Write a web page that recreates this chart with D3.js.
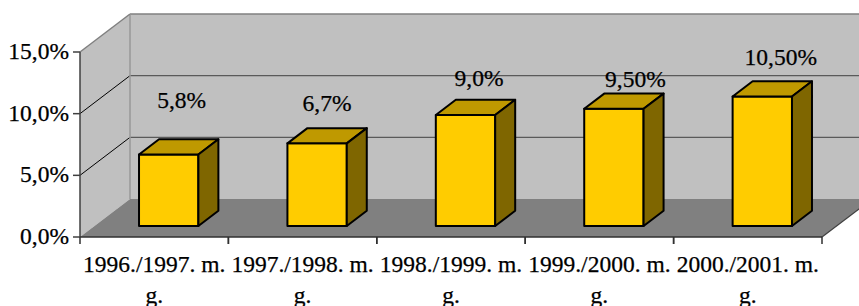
<!DOCTYPE html>
<html>
<head>
<meta charset="utf-8">
<script src="https://cdn.jsdelivr.net/npm/d3@7"></script>
<style>
  html, body { margin: 0; padding: 0; background: #fff; }
  svg { display: block; }
  text { font-family: "Liberation Serif", "Times New Roman", serif; fill: #000; stroke: #000; stroke-width: 0.25px; }
</style>
</head>
<body>
<svg id="chart" width="859" height="306"></svg>
<script>
// ---- data ----
const categories = ["1996./1997. m. g.", "1997./1998. m. g.", "1998./1999. m. g.", "1999./2000. m. g.", "2000./2001. m. g."];
const values = [5.8, 6.7, 9.0, 9.5, 10.5];
const valueLabels = ["5,8%", "6,7%", "9,0%", "9,50%", "10,50%"];
const yTicks = [0, 5, 10, 15];
const yTickLabels = ["0,0%", "5,0%", "10,0%", "15,0%"];

// ---- layout (not data) ----
const labelNudge = [[3, -39], [0, -25], [3.5, -21.5], [11.5, -14], [8.5, -24]];
const plot = { left: 80, right: 822, top: 52, bottom: 237 };
const DEPTH = { dx: 50, dy: -38 };
const barFront = 0.29, barDepth = 0.4, barWidthFrac = 0.4;
const fontSize = 23.5;

const svg = d3.select("#chart");

const y = d3.scaleLinear().domain([0, 15]).range([plot.bottom, plot.top]);
const x = d3.scaleBand().domain(categories).range([plot.left, plot.right]).paddingInner(0).paddingOuter(0);

const pt = (px, py, f) => [px + DEPTH.dx * f, py + DEPTH.dy * f];
const poly = pts => pts.map(p => p.join(",")).join(" ");

const yMax = y.domain()[1], yMin = y.domain()[0];

// walls
svg.append("polygon") // back wall
  .attr("points", poly([pt(plot.left, y(yMax), 1), pt(plot.right, y(yMax), 1), pt(plot.right, y(yMin), 1), pt(plot.left, y(yMin), 1)]))
  .attr("fill", "#c0c0c0");
svg.append("polygon") // side wall
  .attr("points", poly([[plot.left, y(yMax)], pt(plot.left, y(yMax), 1), pt(plot.left, y(yMin), 1), [plot.left, y(yMin)]]))
  .attr("fill", "#c0c0c0");
svg.append("polygon") // floor
  .attr("points", poly([[plot.left, y(0)], [plot.right, y(0)], pt(plot.right, y(0), 1), pt(plot.left, y(0), 1)]))
  .attr("fill", "#808080");

// gridlines
yTicks.filter(v => v > yMin && v < yMax).forEach(v => {
  const a = pt(plot.left, y(v), 1), b = pt(plot.right, y(v), 1);
  svg.append("line").attr("x1", a[0]).attr("y1", a[1]).attr("x2", b[0]).attr("y2", b[1])
    .attr("stroke", "#5a5a5a").attr("stroke-width", 1.4);
  svg.append("line").attr("x1", plot.left).attr("y1", y(v)).attr("x2", a[0]).attr("y2", a[1])
    .attr("stroke", "#000").attr("stroke-width", 1);
});

// wall edges
{
  const tl = pt(plot.left, y(yMax), 1), tr = pt(plot.right, y(yMax), 1), bl = pt(plot.left, y(yMin), 1);
  svg.append("line").attr("x1", tl[0]).attr("y1", tl[1]).attr("x2", tr[0]).attr("y2", tr[1]).attr("stroke", "#808080").attr("stroke-width", 1.5);
  svg.append("line").attr("x1", tl[0]).attr("y1", tl[1]).attr("x2", bl[0]).attr("y2", bl[1]).attr("stroke", "#999").attr("stroke-width", 1.5);
  svg.append("line").attr("x1", plot.left).attr("y1", y(yMax)).attr("x2", tl[0]).attr("y2", tl[1]).attr("stroke", "#808080").attr("stroke-width", 1.5);
  const fr = pt(plot.right, y(0), 1);
  svg.append("line").attr("x1", plot.right).attr("y1", y(0)).attr("x2", fr[0]).attr("y2", fr[1]).attr("stroke", "#404040").attr("stroke-width", 1.2);
}

// y axis line + ticks + labels
svg.append("line").attr("x1", plot.left).attr("y1", y(yMax)).attr("x2", plot.left).attr("y2", y(yMin))
  .attr("stroke", "#404040").attr("stroke-width", 1.5);
yTicks.forEach((v, i) => {
  svg.append("line").attr("x1", plot.left - 7).attr("y1", y(v)).attr("x2", plot.left).attr("y2", y(v))
    .attr("stroke", "#404040").attr("stroke-width", 1.5);
  svg.append("text").attr("x", plot.left - 11).attr("y", y(v) + 7).attr("text-anchor", "end")
    .attr("font-size", fontSize).text(yTickLabels[i]);
});

// x axis line + ticks
svg.append("line").attr("x1", plot.left).attr("y1", y(0)).attr("x2", plot.right).attr("y2", y(0))
  .attr("stroke", "#303030").attr("stroke-width", 1.5);
categories.forEach(c => {
  [x(c), x(c) + x.bandwidth()].forEach(px => {
    svg.append("line").attr("x1", px).attr("y1", y(0)).attr("x2", px).attr("y2", y(0) + 7)
      .attr("stroke", "#303030").attr("stroke-width", 1.5);
  });
});

// bars
const bw = x.bandwidth() * barWidthFrac;
categories.forEach((c, i) => {
  const v = values[i];
  const cx = x(c) + x.bandwidth() / 2;
  const [fl, fb] = pt(cx - bw / 2, y(0), barFront);
  const [fr] = pt(cx + bw / 2, y(0), barFront);
  const [, ft] = pt(cx, y(v), barFront);
  const ddx = DEPTH.dx * barDepth, ddy = DEPTH.dy * barDepth;
  const g = svg.append("g").attr("stroke", "#000").attr("stroke-width", 2).attr("stroke-linejoin", "round");
  g.append("polygon").attr("points", poly([[fl, ft], [fr, ft], [fr, fb], [fl, fb]])).attr("fill", "#ffcc00");
  g.append("polygon").attr("points", poly([[fl, ft], [fl + ddx, ft + ddy], [fr + ddx, ft + ddy], [fr, ft]])).attr("fill", "#bf9900");
  g.append("polygon").attr("points", poly([[fr, ft], [fr + ddx, ft + ddy], [fr + ddx, fb + ddy], [fr, fb]])).attr("fill", "#7f6600");

  const ax = (fl + fr) / 2 + ddx / 2, ay = ft + ddy / 2;
  svg.append("text").attr("x", ax + labelNudge[i][0]).attr("y", ay + labelNudge[i][1])
    .attr("text-anchor", "middle").attr("font-size", fontSize).text(valueLabels[i]);
});

// category labels (wrapped to band width)
categories.forEach(c => {
  const cx = x(c) + x.bandwidth() / 2;
  const t = svg.append("text").attr("x", cx).attr("y", 271.5).attr("text-anchor", "middle").attr("font-size", fontSize);
  const words = c.split(" ");
  let line = [], lineNo = 0;
  let ts = t.append("tspan").attr("x", cx).attr("y", 271.5);
  words.forEach(w => {
    line.push(w);
    ts.text(line.join(" "));
    if (ts.node().getComputedTextLength() > x.bandwidth() - 2 && line.length > 1) {
      line.pop();
      ts.text(line.join(" "));
      line = [w];
      lineNo++;
      ts = t.append("tspan").attr("x", cx).attr("y", 271.5 + lineNo * 31.5).text(w);
    }
  });
});
</script>
</body>
</html>
